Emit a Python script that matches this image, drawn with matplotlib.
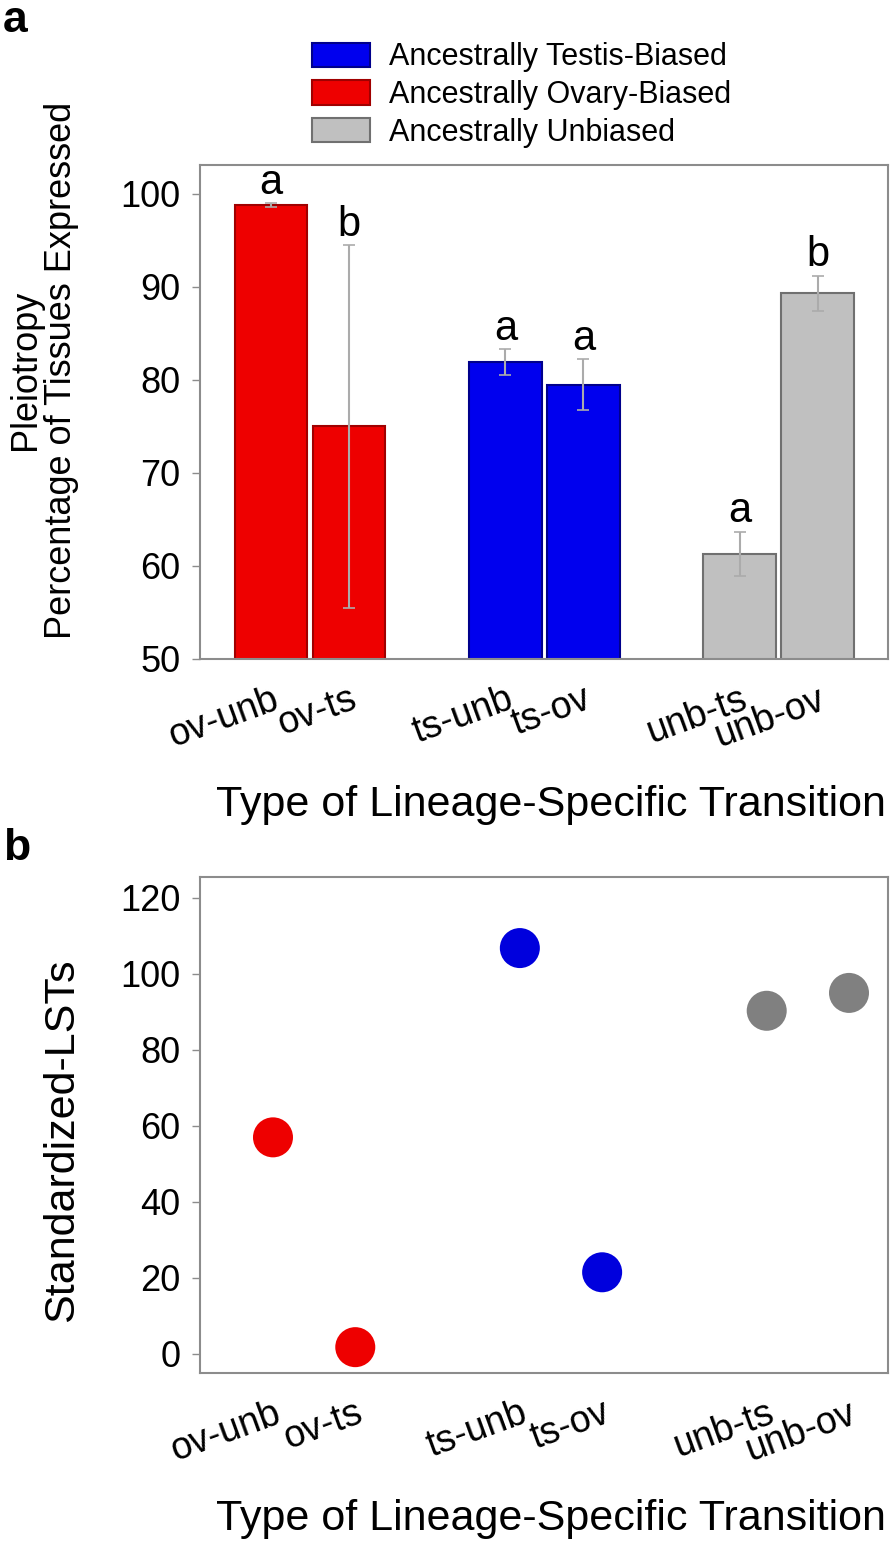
import matplotlib
matplotlib.use("Agg")
import matplotlib.pyplot as plt
from matplotlib.patches import Patch

plt.rcParams['font.family'] = ['Liberation Sans', 'DejaVu Sans']

# transitions, in plotting order
transitions = ["ov-unb", "ov-ts", "ts-unb", "ts-ov", "unb-ts", "unb-ov"]
positions = [1, 2, 4, 5, 7, 8]
ancestry = ["ovary", "ovary", "testis", "testis", "unbiased", "unbiased"]

# panel a: pleiotropy (% of tissues expressed)
pleiotropy = [98.8, 75.0, 81.9, 79.5, 61.3, 89.3]
pleiotropy_err = [0.2, 19.5, 1.4, 2.7, 2.4, 1.9]
letters = ["a", "b", "a", "a", "a", "b"]

# panel b: standardized LSTs
std_lsts = [57.0, 1.8, 106.8, 21.5, 90.3, 95.0]

bar_colors = {"testis": "#0000EE", "ovary": "#EE0000", "unbiased": "#C0C0C0"}
bar_edges = {"testis": "#00008B", "ovary": "#A00000", "unbiased": "#707070"}
dot_colors = {"testis": "#0000DD", "ovary": "#EE0000", "unbiased": "#808080"}
legend_labels = {"testis": "Ancestrally Testis-Biased",
                 "ovary": "Ancestrally Ovary-Biased",
                 "unbiased": "Ancestrally Unbiased"}

W, H = 894, 1546
fig = plt.figure(figsize=(W / 100, H / 100), dpi=100)


def px_axes(left, top, right, bottom):
    return fig.add_axes([left / W, 1 - bottom / H, (right - left) / W, (bottom - top) / H])


def style_axes(ax):
    for sp in ax.spines.values():
        sp.set_color("#8c8c8c")
        sp.set_linewidth(1.5)
    ax.tick_params(axis="y", direction="out", length=6, width=1, color="#8c8c8c",
                   labelsize=26, pad=8)
    ax.tick_params(axis="x", length=0, labelsize=27, pad=16)
    ax.set_xticks(positions)
    ax.set_xticklabels(transitions, rotation=20, ha="right", rotation_mode="anchor")


# ---- panel a ----
ax1 = px_axes(200, 165, 888, 659)
ax1.bar(positions, pleiotropy, width=0.93,
        color=[bar_colors[a] for a in ancestry],
        edgecolor=[bar_edges[a] for a in ancestry], linewidth=1.5, zorder=2)
ax1.errorbar(positions, pleiotropy, yerr=pleiotropy_err, fmt="none",
             ecolor="#ababab", elinewidth=1.5, capsize=4, capthick=1.2, zorder=3)
for x, m, e, t in zip(positions, pleiotropy, pleiotropy_err, letters):
    ax1.text(x, m + e + 1.0, t, ha="center", va="baseline", fontsize=30)
ax1.set_xlim(0.09, 8.9)
ax1.set_ylim(50, 103.1)
ax1.set_yticks([50, 60, 70, 80, 90, 100])
style_axes(ax1)
ax1.set_ylabel("Pleiotropy\nPercentage of Tissues Expressed", fontsize=26,
               linespacing=1.05)
ax1.yaxis.set_label_coords(-0.176, 0.585)
ax1.set_xlabel("Type of Lineage-Specific Transition", fontsize=31)
ax1.xaxis.set_label_coords(0.51, -0.255)

handles = [Patch(facecolor=bar_colors[k], edgecolor=bar_edges[k], linewidth=1.5,
                 label=legend_labels[k]) for k in ["testis", "ovary", "unbiased"]]
fig.legend(handles=handles, loc="upper left", bbox_to_anchor=(297 / W, 1 - 27 / H),
           frameon=False, fontsize=22, handlelength=1.9, handleheight=0.85,
           handletextpad=0.6, labelspacing=0.25, borderpad=0)

# ---- panel b ----
ax2 = px_axes(200, 877, 888, 1373)
ax2.scatter(positions, std_lsts, s=830, c=[dot_colors[a] for a in ancestry],
            edgecolors="none", zorder=3)
ax2.set_xlim(0.113, 8.474)
ax2.set_ylim(-5, 125.5)
ax2.set_yticks([0, 20, 40, 60, 80, 100, 120])
style_axes(ax2)
ax2.set_ylabel("Standardized-LSTs", fontsize=31)
ax2.yaxis.set_label_coords(-0.172, 0.47)
ax2.set_xlabel("Type of Lineage-Specific Transition", fontsize=31)
ax2.xaxis.set_label_coords(0.51, -0.255)

fig.text(3 / W, 1 - 0 / H, "a", fontsize=32, fontweight="bold", va="top")
fig.text(3 / W, 1 - 828 / H, "b", fontsize=32, fontweight="bold", va="top")

fig.savefig("out.png", dpi=100)
